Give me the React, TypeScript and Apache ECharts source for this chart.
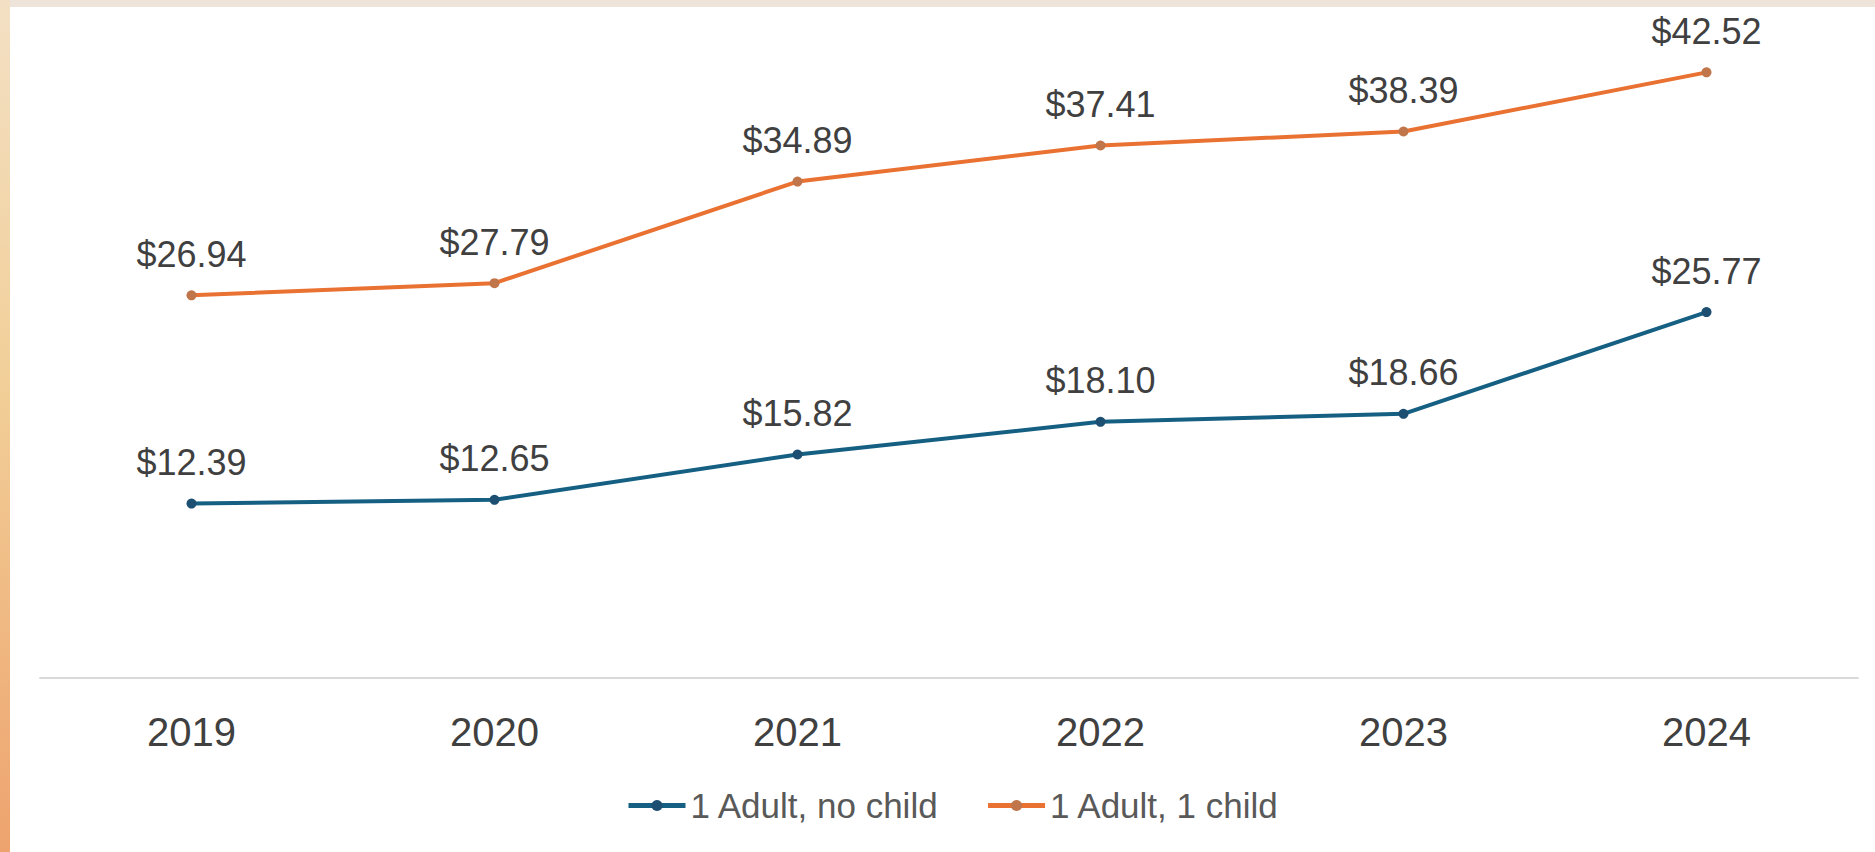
import React, { useEffect, useRef } from "react";
import * as echarts from "echarts";

const years = ["2019", "2020", "2021", "2022", "2023", "2024"];
const adultNoChild = [12.39, 12.65, 15.82, 18.1, 18.66, 25.77];
const adultOneChild = [26.94, 27.79, 34.89, 37.41, 38.39, 42.52];
const seriesNames = ["1 Adult, no child", "1 Adult, 1 child"];

const FONT = "'Liberation Sans', Arial, sans-serif";

export default function App() {
  const ref = useRef<HTMLDivElement>(null);
  useEffect(() => {
    document.body.style.margin = "0";
    const chart = echarts.init(ref.current!, null, { renderer: "svg" });
    const label = {
      show: true,
      position: "top" as const,
      distance: 18,
      fontSize: 36,
      fontFamily: FONT,
      color: "#404040",
      formatter: (p: any) => "$" + Number(p.value).toFixed(2),
    };
    chart.setOption({
      animation: false,
      backgroundColor: "#ffffff",
      graphic: [
        {
          type: "rect",
          left: 0,
          top: 0,
          shape: { width: 1875, height: 7 },
          style: { fill: "#eee4da" },
          z: -10,
        },
        {
          type: "rect",
          left: 0,
          top: 0,
          shape: { width: 10, height: 852 },
          style: {
            fill: new echarts.graphic.LinearGradient(0, 0, 0, 1, [
              { offset: 0, color: "#f3e0c4" },
              { offset: 0.45, color: "#f2cf98" },
              { offset: 1, color: "#eea36e" },
            ]),
          },
          z: -10,
        },
      ],
      grid: { left: 40, right: 17, top: 34, bottom: 852 - 678 },
      legend: {
        data: seriesNames,
        left: 621,
        top: 783,
        itemWidth: 57,
        itemHeight: 14,
        itemGap: 46,
        lineStyle: { width: 5 },
        textStyle: { fontSize: 35, fontFamily: FONT, color: "#595959" },
      },
      xAxis: {
        type: "category",
        data: years,
        boundaryGap: true,
        axisLine: { onZero: false, lineStyle: { color: "#d9d9d9", width: 2 } },
        axisTick: { show: false },
        axisLabel: { fontSize: 40, fontFamily: FONT, color: "#404040", margin: 34 },
      },
      yAxis: {
        type: "value",
        min: 0.2,
        max: 45.2,
        show: false,
        splitLine: { show: false },
      },
      series: [
        {
          name: seriesNames[0],
          type: "line",
          data: adultNoChild,
          symbol: "circle",
          symbolSize: 10,
          lineStyle: { color: "#156082", width: 4 },
          itemStyle: { color: "#1d4f73" },
          label,
        },
        {
          name: seriesNames[1],
          type: "line",
          data: adultOneChild,
          symbol: "circle",
          symbolSize: 10,
          lineStyle: { color: "#e97132", width: 4 },
          itemStyle: { color: "#c0764a" },
          label,
        },
      ],
    });
    return () => chart.dispose();
  }, []);
  return <div ref={ref} style={{ width: 1875, height: 852 }} />;
}
